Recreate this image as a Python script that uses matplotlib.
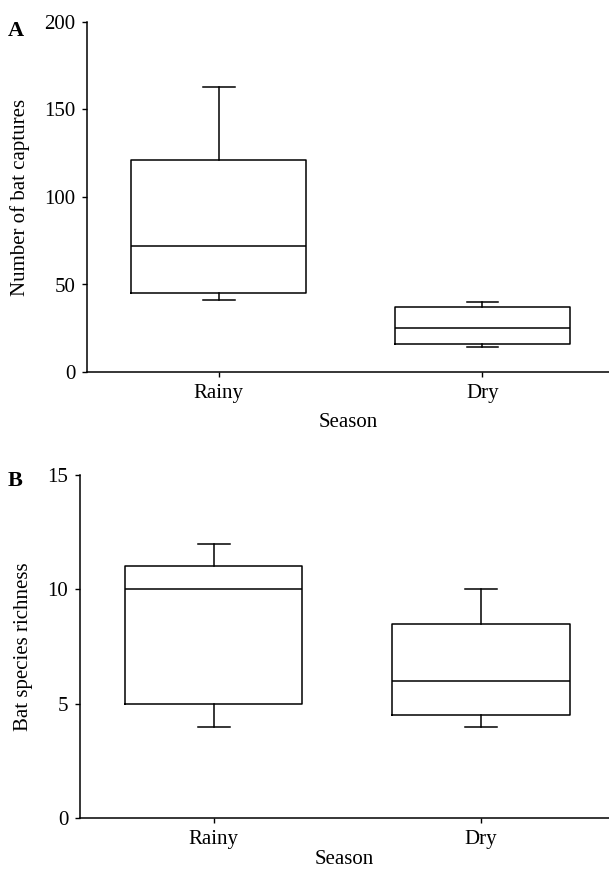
import matplotlib
matplotlib.use("Agg")
import matplotlib.pyplot as plt

# season categories
seasons = ["Rainy", "Dry"]

# panel A: number of bat captures (low whisker, Q1, median, Q3, high whisker)
captures_low = [41, 14]
captures_q1 = [45, 16]
captures_med = [72, 25]
captures_q3 = [121, 37]
captures_high = [163, 40]

# panel B: bat species richness
rich_low = [4, 4]
rich_q1 = [5, 4.5]
rich_med = [10, 6]
rich_q3 = [11, 8.5]
rich_high = [12, 10]

plt.rcParams['font.family'] = ['Liberation Serif', 'DejaVu Serif']
plt.rcParams['font.size'] = 15


def stats_for(low, q1, med, q3, high):
    out = []
    for i in range(len(seasons)):
        out.append({'whislo': low[i], 'q1': q1[i], 'med': med[i],
                    'q3': q3[i], 'whishi': high[i], 'fliers': [],
                    'label': seasons[i]})
    return out


def draw_panel(ax, stats, ymax, yticks, ylabel, xpad):
    ax.bxp(stats, positions=[1, 2], widths=0.665, showfliers=False,
           boxprops=dict(color='k', lw=1.1),
           medianprops=dict(color='k', lw=1.1),
           whiskerprops=dict(color='k', lw=1.1),
           capprops=dict(color='k', lw=1.1),
           capwidths=0.12)
    ax.set_xlim(0.5, 2.48)
    ax.set_ylim(0, ymax)
    ax.set_yticks(yticks)
    ax.spines['top'].set_visible(False)
    ax.spines['right'].set_visible(False)
    ax.spines['left'].set_linewidth(1.1)
    ax.spines['bottom'].set_linewidth(1.1)
    ax.tick_params(direction='out', length=3.5, width=1, labelsize=15, pad=5)
    ax.set_ylabel(ylabel, fontsize=15, labelpad=10)
    ax.set_xlabel('Season', fontsize=15, labelpad=xpad)


fig = plt.figure(figsize=(6.09, 8.71), dpi=100)

ax1 = fig.add_axes([87 / 609, 1 - 372 / 871, 1 - 87 / 609, (372 - 22) / 871])
draw_panel(ax1, stats_for(captures_low, captures_q1, captures_med, captures_q3, captures_high),
           200, [0, 50, 100, 150, 200], 'Number of bat captures', 7)

ax2 = fig.add_axes([80 / 609, 1 - 818 / 871, 1 - 80 / 609, (818 - 475) / 871])
draw_panel(ax2, stats_for(rich_low, rich_q1, rich_med, rich_q3, rich_high),
           15, [0, 5, 10, 15], 'Bat species richness', 1)

fig.text(8 / 609, 1 - 36 / 871, 'A', fontsize=16, fontweight='bold')
fig.text(8 / 609, 1 - 486 / 871, 'B', fontsize=16, fontweight='bold')

fig.savefig('out.png', dpi=100)
